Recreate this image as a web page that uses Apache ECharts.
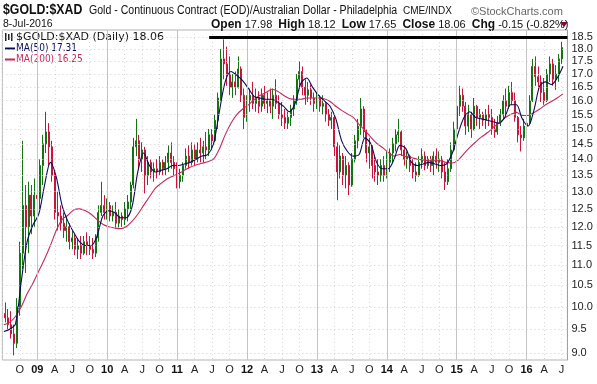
<!DOCTYPE html>
<html><head><meta charset="utf-8">
<script src="https://cdn.jsdelivr.net/npm/echarts@6/dist/echarts.min.js"></script>
<style>html,body{margin:0;padding:0;background:#fff}#c{width:597px;height:384px}</style>
</head><body><div id="c"></div>
<script>
// x unit: months since Jan 2008 (12 = Jan 2009). Price bars are half-monthly aggregates.
const PRICE_START = 6.5, PRICE_STEP = 0.5;
const priceOpen = [
9.85,9.75,9.6,9.4,9.2,10.0,11.3,12.6,12.0,12.9,12.3,12.9,
12.8,13.8,14.5,14.9,14.4,13.5,12.4,12.3,12.1,11.9,12.0,11.6,
11.7,11.4,11.5,11.3,11.6,11.5,11.4,11.3,11.7,12.4,12.6,12.4,
12.6,12.3,12.4,12.1,12.3,12.2,12.5,12.7,13.2,14.4,14.6,14.0,
14.3,13.5,13.9,13.6,13.7,13.6,13.9,13.7,13.9,14.2,13.9,13.7,
13.3,13.5,13.8,14.1,13.9,14.3,14.0,14.3,14.2,14.4,14.3,14.8,
14.6,15.3,16.1,17.6,17.4,17.0,16.5,16.7,16.5,17.2,16.2,15.4,
16.0,16.2,15.9,16.1,15.8,16.2,15.9,16.0,15.8,16.2,15.9,15.5,
15.4,15.2,15.4,15.7,16.0,16.8,17.1,16.5,16.2,16.4,16.1,15.9,
16.1,15.8,15.9,15.5,15.3,15.4,14.4,13.6,14.1,13.5,13.8,13.2,
14.0,14.6,15.1,15.7,14.9,14.2,14.4,13.8,13.6,13.5,13.8,13.5,
13.9,14.2,14.5,14.8,14.9,14.3,14.0,14.1,13.8,13.6,13.5,13.9,
14.1,13.8,14.0,13.8,14.1,13.9,14.0,13.6,13.3,13.7,14.3,15.0,
15.8,16.2,15.8,15.1,15.5,15.0,15.8,15.4,15.5,15.3,15.5,15.4,
15.0,14.9,15.2,15.5,16.0,15.8,16.3,16.0,15.4,14.8,14.7,15.1,
15.2,16.0,17.3,16.9,16.7,16.3,16.0,17.0,17.4,16.8,17.0,17.6];
const priceHigh = [
10.1,9.95,9.9,9.6,10.2,11.6,14.6,13.2,13.3,13.2,13.4,13.3,
14.0,14.8,15.6,15.2,14.6,13.6,13.0,12.6,12.4,12.3,12.1,11.9,
11.8,11.7,11.75,11.75,11.85,11.75,11.7,11.8,12.6,13.3,12.9,12.8,
12.7,12.6,12.7,12.5,12.4,12.7,12.9,13.3,14.7,15.35,14.8,14.55,
14.4,14.1,14.0,13.9,14.0,14.1,14.0,14.1,14.45,14.55,14.1,13.9,
13.7,13.9,14.35,14.45,14.55,14.5,14.55,14.7,14.6,14.9,15.0,15.0,
15.5,16.3,18.0,18.4,18.1,17.7,17.0,17.1,17.7,17.3,16.45,16.2,
16.45,16.7,16.45,16.35,16.45,16.55,16.3,16.45,16.45,16.8,16.2,15.95,
15.7,15.6,15.85,16.2,17.0,17.5,17.3,16.8,16.7,16.6,16.3,16.3,
16.2,16.2,15.95,15.7,15.6,15.45,14.55,14.45,14.2,14.1,13.9,14.2,
14.8,15.35,16.1,15.8,15.0,14.7,14.45,14.1,14.0,14.0,14.1,14.25,
14.35,14.7,15.0,15.35,14.95,14.45,14.25,14.15,14.0,13.9,14.1,14.35,
14.25,14.1,14.1,14.25,14.35,14.25,14.1,13.9,14.0,14.55,15.25,15.95,
16.55,16.45,15.95,15.85,15.6,16.1,15.85,15.7,15.6,15.7,15.85,15.7,
15.35,15.45,15.7,16.2,16.45,16.55,16.7,16.3,15.45,15.1,15.35,15.45,
16.2,17.6,17.7,17.3,16.95,16.85,17.2,17.7,17.6,17.35,17.8,18.3];
const priceLow = [
9.65,9.5,9.3,8.95,9.1,9.8,10.9,10.8,11.3,11.8,12.0,12.1,
12.5,13.2,14.2,13.8,13.3,12.2,11.9,11.9,11.7,11.6,11.4,11.4,
11.25,11.15,11.15,11.25,11.25,11.25,11.15,11.2,11.6,12.3,12.2,12.2,
12.15,12.15,11.95,11.95,12.0,12.05,12.15,12.5,13.1,14.1,13.7,13.6,
12.95,13.2,13.4,13.3,13.4,13.5,13.5,13.5,13.6,13.7,13.5,13.1,
13.1,13.3,13.7,13.7,13.8,13.8,13.9,13.9,13.9,14.0,14.1,14.35,
14.55,15.0,16.0,16.8,16.55,16.2,16.1,16.2,16.45,15.95,15.0,15.25,
15.6,15.7,15.6,15.55,15.6,15.7,15.55,15.55,15.35,15.7,15.35,15.1,
15.0,15.0,15.1,15.45,15.85,16.45,16.2,15.85,15.95,15.85,15.6,15.7,
15.6,15.5,15.25,15.1,15.0,14.1,12.75,13.4,13.2,13.1,12.9,13.15,
13.9,14.35,14.8,14.7,13.9,13.7,13.4,13.3,13.2,13.3,13.3,13.4,
13.6,13.9,14.25,14.55,14.1,13.8,13.7,13.6,13.4,13.3,13.45,13.7,
13.65,13.7,13.6,13.5,13.7,13.6,13.4,13.05,13.2,13.6,14.25,14.95,
15.45,15.6,14.8,14.9,14.7,14.95,15.1,15.0,15.1,15.0,15.1,14.8,
14.7,14.8,15.1,15.35,15.45,15.7,15.85,15.25,14.55,14.25,14.6,14.8,
15.15,15.95,16.55,16.4,15.95,15.85,15.95,16.7,16.55,16.4,16.7,17.4];
const priceClose = [
9.75,9.6,9.4,9.2,10.0,11.3,12.6,12.0,12.9,12.3,12.9,12.8,
13.8,14.5,14.9,14.4,13.5,12.4,12.3,12.1,11.9,12.0,11.6,11.7,
11.4,11.5,11.3,11.6,11.5,11.4,11.3,11.7,12.4,12.6,12.4,12.6,
12.3,12.4,12.1,12.3,12.2,12.5,12.7,13.2,14.4,14.6,14.0,14.3,
13.5,13.9,13.6,13.7,13.6,13.9,13.7,13.9,14.2,13.9,13.7,13.3,
13.5,13.8,14.1,13.9,14.3,14.0,14.3,14.2,14.4,14.3,14.8,14.6,
15.3,16.1,17.6,17.4,17.0,16.5,16.7,16.5,17.2,16.2,15.4,16.0,
16.2,15.9,16.1,15.8,16.2,15.9,16.0,15.8,16.2,15.9,15.5,15.4,
15.2,15.4,15.7,16.0,16.8,17.1,16.5,16.2,16.4,16.1,15.9,16.1,
15.8,15.9,15.5,15.3,15.4,14.4,13.6,14.1,13.5,13.8,13.2,14.0,
14.6,15.1,15.7,14.9,14.2,14.4,13.8,13.6,13.5,13.8,13.5,13.9,
14.2,14.5,14.8,14.9,14.3,14.0,14.1,13.8,13.6,13.5,13.9,14.1,
13.8,14.0,13.8,14.1,13.9,14.0,13.6,13.3,13.7,14.3,15.0,15.8,
16.2,15.8,15.1,15.5,15.0,15.8,15.4,15.5,15.3,15.5,15.4,15.0,
14.9,15.2,15.5,16.0,15.8,16.3,16.0,15.4,14.8,14.7,15.1,15.2,
16.0,17.3,16.9,16.7,16.3,16.0,17.0,17.4,16.8,17.0,17.6,18.06];

// moving averages, monthly samples
const MA_START = 6.25, MA_STEP = 1;
const ma50 = [
9.45,9.5,9.62,10.6,11.6,12.05,12.35,13.2,13.9,13.45,12.6,12.15,
11.85,11.6,11.5,11.5,11.75,12.3,12.45,12.4,12.25,12.25,12.55,13.6,
14.2,13.8,13.6,13.65,13.7,13.8,13.8,13.85,13.9,14.0,14.1,14.15,
14.5,15.6,16.7,17.1,16.95,16.75,16.45,16.15,16.1,16.05,16.05,15.95,
15.8,15.6,15.9,16.65,16.85,16.5,16.2,16.0,15.8,15.35,14.6,14.25,
14.1,14.15,14.7,14.5,13.9,13.7,13.7,14.0,14.45,14.35,13.9,13.8,
13.85,13.9,13.85,13.8,13.85,14.2,14.85,15.4,15.6,15.4,15.35,15.3,
15.25,15.2,15.4,15.85,15.85,15.35,15.1,15.65,16.55,16.7,16.6,16.85,
17.31];
const ma200 = [
9.6,9.65,9.78,10.0,10.3,10.55,10.85,11.15,11.5,11.9,12.2,12.32,
12.47,12.5,12.45,12.35,12.2,12.07,12.0,11.97,11.95,12.0,12.15,12.35,
12.6,12.85,13.1,13.25,13.38,13.47,13.55,13.65,13.75,13.82,13.87,13.92,
14.0,14.33,14.8,15.2,15.5,15.7,15.85,16.05,16.2,16.3,16.42,16.35,
16.2,16.08,16.05,16.05,16.1,16.1,16.1,16.07,15.97,15.8,15.65,15.52,
15.4,15.15,14.95,14.72,14.52,14.38,14.22,14.1,14.15,14.08,14.05,14.0,
13.98,13.95,13.95,13.95,13.9,13.88,13.97,14.18,14.38,14.56,14.73,14.87,
15.05,15.2,15.38,15.5,15.58,15.47,15.47,15.57,15.7,15.85,15.97,16.1,
16.25];

const yTicks = [9.0,9.5,10.0,10.5,11.0,11.5,12.0,12.5,13.0,13.5,14.0,14.5,15.0,15.5,16.0,16.5,17.0,17.5,18.0,18.5];
const quarterLetters = ['', 'A', 'J', 'O'];
const yearLines = [12,24,36,48,60,72,84,96];
const trendLine = [[41.5, 18.48], [103, 18.48]];

const UP = '#137313', DOWN = '#c8143c', MA50C = '#0a0a5a', MA200C = '#c22a5c';
const SANS = '"Liberation Sans", Arial, sans-serif';
const DJV = '"DejaVu Sans", Verdana, sans-serif';

const candleData = priceOpen.map((o, i) => [PRICE_START + i * PRICE_STEP, o, priceClose[i], priceLow[i], priceHigh[i]]);
const ma50Data = ma50.map((v, i) => [MA_START + i * MA_STEP, v]);
const ma200Data = ma200.map((v, i) => [MA_START + i * MA_STEP, v]);

const chart = echarts.init(document.getElementById('c'));
chart.setOption({
  animation: false,
  backgroundColor: '#fff',
  grid: { left: 2.35, right: 29.6, top: 30, bottom: 24, show: true, borderColor: '#b4b4b4', borderWidth: 1 },
  xAxis: {
    type: 'value', min: 6, max: 103, interval: 3,
    axisLine: { show: false }, axisTick: { show: false },
    splitLine: { show: true, lineStyle: { color: '#d6d6d6', type: [1, 3], width: 1 } },
    axisLabel: {
      showMinLabel: false, margin: 4, fontSize: 11, fontFamily: SANS, color: '#222',
      formatter: v => {
        const r = ((v % 12) + 12) % 12;
        if (Math.abs(v - Math.round(v)) > 1e-6 || r % 3) return '';
        if (r === 0) return '{y|' + String(2008 + v / 12).slice(2) + '}';
        return quarterLetters[r / 3];
      },
      rich: { y: { fontWeight: 'bold', fontSize: 11, fontFamily: SANS, color: '#111' } }
    }
  },
  yAxis: {
    type: 'log', min: 8.857, max: 18.798, position: 'right',
    axisLine: { show: true, lineStyle: { color: '#a0a0a0' } },
    axisTick: { show: false }, axisLabel: { show: false }, splitLine: { show: false }
  },
  series: [
    {
      type: 'line', data: [], silent: true, z: 1,
      markLine: {
        silent: true, symbol: 'none', animation: false,
        lineStyle: { color: '#d0d0d0', type: [1, 3], width: 1 },
        label: { show: true, position: 'end', distance: 4, formatter: '{b}', fontSize: 11, fontFamily: SANS, color: '#222' },
        data: yTicks.map(v => ({ yAxis: v, name: v.toFixed(1) }))
      }
    },
    {
      type: 'line', data: [], silent: true, z: 1,
      markLine: {
        silent: true, symbol: 'none', animation: false,
        lineStyle: { color: '#c4c4c4', type: 'solid', width: 1 },
        label: { show: false },
        data: yearLines.map(v => ({ xAxis: v }))
      }
    },
    {
      type: 'candlestick', data: candleData, z: 2,
      encode: { x: 0, y: [1, 2, 3, 4] },
      barWidth: 1.5,
      itemStyle: { color: UP, color0: DOWN, borderColor: UP, borderColor0: DOWN, borderWidth: 1 },
      markLine: {
        silent: true, symbol: 'none', animation: false,
        lineStyle: { color: '#000', type: 'solid', width: 3 },
        label: { show: false },
        data: [[{ coord: trendLine[0] }, { coord: trendLine[1] }]]
      }
    },
    { type: 'line', data: ma200Data, z: 3, showSymbol: false, smooth: 0.3, lineStyle: { color: MA200C, width: 1.1 } },
    { type: 'line', data: ma50Data, z: 4, showSymbol: false, smooth: 0.3, lineStyle: { color: MA50C, width: 1.1 } }
  ],
  graphic: [
    { type: 'text', x: 3, y: 10, scaleX: 0.82, style: { text: '$GOLD:$XAD', font: 'bold 15px ' + SANS, fill: '#111', textVerticalAlign: 'middle' } },
    { type: 'text', x: 89, y: 11, scaleX: 0.88, style: { text: 'Gold - Continuous Contract (EOD)/Australian Dollar - Philadelphia', font: '12px ' + SANS, fill: '#111', textVerticalAlign: 'middle' } },
    { type: 'text', x: 403, y: 11.5, style: { text: 'CME/INDX', font: '10px ' + SANS, fill: '#111', textVerticalAlign: 'middle' } },
    { type: 'text', x: 471, y: 12, style: { text: '\u00a9StockCharts.com', font: '11px ' + SANS, fill: '#666', textVerticalAlign: 'middle' } },
    { type: 'text', x: 3, y: 24.5, style: { text: '8-Jul-2016', font: '10.5px ' + SANS, fill: '#111', textVerticalAlign: 'middle' } },
    { type: 'text', x: 211, y: 24.5, style: {
        text: '{b|Open} 17.98  {b|High} 18.12  {b|Low} 17.65  {b|Close} 18.06  {b|Chg} -0.15 (-0.82%)',
        font: '11px ' + SANS, fill: '#111', textVerticalAlign: 'middle',
        rich: { b: { font: 'bold 12px ' + SANS, fill: '#111' } } } },
    { type: 'polygon', shape: { points: [[560, 22], [568, 22], [564, 27]] }, style: { fill: '#7a1030' } },
    // legend inside plot
    { type: 'rect', shape: { x: 5, y: 33, width: 1.5, height: 8 }, style: { fill: '#222' } },
    { type: 'rect', shape: { x: 8, y: 34, width: 1.5, height: 6 }, style: { fill: '#222' } },
    { type: 'rect', shape: { x: 11, y: 33, width: 1.5, height: 8 }, style: { fill: '#222' } },
    { type: 'text', x: 16, y: 37.5, style: { text: '$GOLD:$XAD (Daily) 18.06', font: '11px ' + DJV, fill: '#111', textVerticalAlign: 'middle' } },
    { type: 'rect', shape: { x: 5, y: 47.5, width: 10, height: 2 }, style: { fill: MA50C } },
    { type: 'text', x: 16, y: 48.5, scaleX: 0.9, style: { text: 'MA(50) 17.31', font: '10px ' + DJV, fill: MA50C, textVerticalAlign: 'middle' } },
    { type: 'rect', shape: { x: 5, y: 58.5, width: 10, height: 2 }, style: { fill: MA200C } },
    { type: 'text', x: 16, y: 59.5, scaleX: 0.9, style: { text: 'MA(200) 16.25', font: '10px ' + DJV, fill: MA200C, textVerticalAlign: 'middle' } }
  ]
});
</script></body></html>
